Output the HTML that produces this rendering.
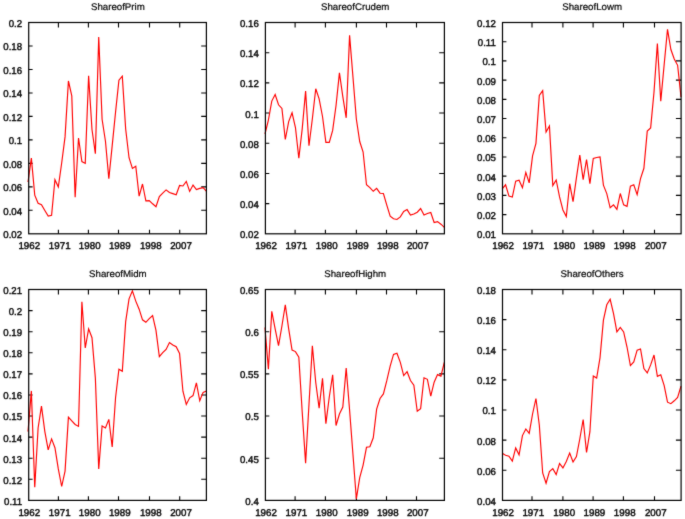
<!DOCTYPE html><html><head><meta charset="utf-8"><style>html,body{margin:0;padding:0;background:#fff}svg{display:block}text{font-family:"Liberation Sans",sans-serif;font-size:9.9px;fill:#000}</style></head><body>
<svg width="685" height="519" viewBox="0 0 685 519">
<defs><filter id="tb" x="0" y="0" width="685" height="519" filterUnits="userSpaceOnUse" color-interpolation-filters="sRGB"><feConvolveMatrix order="3" kernelMatrix="0.3 1 0.3 1 8 1 0.3 1 0.3" preserveAlpha="false"/></filter><filter id="lb" x="0" y="0" width="685" height="519" filterUnits="userSpaceOnUse" color-interpolation-filters="sRGB"><feConvolveMatrix order="3" kernelMatrix="0.25 1 0.25 1 9 1 0.25 1 0.25" preserveAlpha="false"/></filter></defs>
<rect width="685" height="519" fill="#fff"/>
<g filter="url(#lb)">
<path d="M58.40 233.80v-4.10M58.40 22.50v5.00M88.40 233.80v-4.10M88.40 22.50v5.00M118.50 233.80v-4.10M118.50 22.50v5.00M149.50 233.80v-4.10M149.50 22.50v5.00M179.70 233.80v-4.10M179.70 22.50v5.00M28.70 210.32h3.90M206.40 210.32h-5.20M28.70 186.84h3.90M206.40 186.84h-5.20M28.70 163.37h3.90M206.40 163.37h-5.20M28.70 139.89h3.90M206.40 139.89h-5.20M28.70 116.41h3.90M206.40 116.41h-5.20M28.70 92.93h3.90M206.40 92.93h-5.20M28.70 69.46h3.90M206.40 69.46h-5.20M28.70 45.98h3.90M206.40 45.98h-5.20" stroke="#000" stroke-width="1.1" fill="none"/>
<polyline points="28.00,182.00 31.37,158.10 34.74,195.10 38.10,203.20 41.47,204.70 44.84,210.50 48.21,216.10 51.58,215.30 54.94,179.80 58.31,187.10 61.68,163.00 65.05,136.90 68.42,81.00 71.78,95.90 75.15,197.30 78.52,138.00 81.89,161.60 85.25,163.40 88.62,75.80 91.99,129.50 95.36,153.70 98.73,37.00 102.09,119.30 105.46,141.20 108.83,178.70 112.20,145.60 115.57,112.00 118.93,80.20 122.30,76.20 125.67,129.00 129.04,157.70 132.41,168.40 135.77,166.20 139.14,196.20 142.51,184.00 145.88,200.90 149.25,200.60 152.61,203.80 155.98,206.70 159.35,196.50 162.72,193.10 166.08,189.90 169.45,192.50 172.82,193.60 176.19,194.70 179.56,185.50 182.92,186.00 186.29,181.40 189.66,191.40 193.03,185.10 196.40,189.60 199.76,188.40 203.13,187.70 206.50,191.40" fill="none" stroke="#ff0000" stroke-width="1.15" stroke-linejoin="miter" stroke-linecap="butt"/>
<g stroke="#000" stroke-width="1.2" fill="none"><rect x="28.70" y="22.50" width="177.70" height="211.30"/></g>
<path d="M295.10 233.80v-4.10M295.10 22.50v5.00M325.40 233.80v-4.10M325.40 22.50v5.00M356.40 233.80v-4.10M356.40 22.50v5.00M386.50 233.80v-4.10M386.50 22.50v5.00M416.50 233.80v-4.10M416.50 22.50v5.00M265.40 203.61h3.90M444.40 203.61h-5.20M265.40 173.43h3.90M444.40 173.43h-5.20M265.40 143.24h3.90M444.40 143.24h-5.20M265.40 113.06h3.90M444.40 113.06h-5.20M265.40 82.87h3.90M444.40 82.87h-5.20M265.40 52.69h3.90M444.40 52.69h-5.20" stroke="#000" stroke-width="1.1" fill="none"/>
<polyline points="265.00,134.00 268.38,120.10 271.77,101.10 275.15,94.50 278.53,104.80 281.92,108.40 285.30,139.50 288.68,121.60 292.06,112.80 295.45,127.50 298.83,158.20 302.21,128.90 305.60,91.10 308.98,145.80 312.36,118.70 315.75,88.70 319.13,98.90 322.51,116.50 325.89,142.40 329.28,142.40 332.66,130.40 336.04,105.50 339.43,72.90 342.81,96.70 346.19,117.80 349.58,35.30 352.96,77.00 356.34,119.00 359.72,141.50 363.11,152.00 366.49,184.70 369.87,187.60 373.26,191.30 376.64,188.40 380.02,193.20 383.41,193.50 386.79,205.20 390.17,216.20 393.55,218.80 396.94,219.50 400.32,216.90 403.70,211.50 407.09,209.60 410.47,215.00 413.85,214.00 417.24,212.20 420.62,208.60 424.00,215.00 427.38,213.50 430.77,212.50 434.15,222.50 437.53,221.60 440.92,224.20 444.30,227.40" fill="none" stroke="#ff0000" stroke-width="1.15" stroke-linejoin="miter" stroke-linecap="butt"/>
<g stroke="#000" stroke-width="1.2" fill="none"><rect x="265.40" y="22.50" width="179.00" height="211.30"/></g>
<path d="M532.00 233.80v-4.10M532.00 22.50v5.00M562.90 233.80v-4.10M562.90 22.50v5.00M593.10 233.80v-4.10M593.10 22.50v5.00M623.40 233.80v-4.10M623.40 22.50v5.00M654.50 233.80v-4.10M654.50 22.50v5.00M502.50 214.59h3.90M681.10 214.59h-5.20M502.50 195.38h3.90M681.10 195.38h-5.20M502.50 176.17h3.90M681.10 176.17h-5.20M502.50 156.96h3.90M681.10 156.96h-5.20M502.50 137.75h3.90M681.10 137.75h-5.20M502.50 118.55h3.90M681.10 118.55h-5.20M502.50 99.34h3.90M681.10 99.34h-5.20M502.50 80.13h3.90M681.10 80.13h-5.20M502.50 60.92h3.90M681.10 60.92h-5.20M502.50 41.71h3.90M681.10 41.71h-5.20" stroke="#000" stroke-width="1.1" fill="none"/>
<polyline points="502.20,188.80 505.57,184.80 508.95,196.10 512.32,197.10 515.69,181.20 519.07,180.30 522.44,187.80 525.82,172.40 529.19,182.90 532.56,155.90 535.94,143.30 539.31,95.40 542.68,90.60 546.06,132.00 549.43,126.00 552.80,185.60 556.18,180.00 559.55,196.90 562.92,210.00 566.30,216.60 569.67,183.70 573.05,201.70 576.42,177.80 579.79,155.10 583.17,179.60 586.54,159.50 589.91,183.70 593.29,158.50 596.66,157.50 600.03,157.00 603.41,185.10 606.78,193.60 610.15,207.80 613.53,204.90 616.90,209.30 620.28,193.50 623.65,204.90 627.02,206.40 630.40,186.20 633.77,184.80 637.14,194.70 640.52,178.60 643.89,168.30 647.26,131.10 650.64,127.90 654.01,92.00 657.38,43.60 660.76,101.30 664.13,65.00 667.51,29.40 670.88,49.50 674.25,59.00 677.63,65.30 681.00,97.00" fill="none" stroke="#ff0000" stroke-width="1.15" stroke-linejoin="miter" stroke-linecap="butt"/>
<g stroke="#000" stroke-width="1.2" fill="none"><rect x="502.50" y="22.50" width="178.60" height="211.30"/></g>
<path d="M58.40 500.40v-4.10M58.40 289.50v5.00M88.40 500.40v-4.10M88.40 289.50v5.00M118.50 500.40v-4.10M118.50 289.50v5.00M149.50 500.40v-4.10M149.50 289.50v5.00M179.70 500.40v-4.10M179.70 289.50v5.00M28.70 479.31h3.90M206.40 479.31h-5.20M28.70 458.22h3.90M206.40 458.22h-5.20M28.70 437.13h3.90M206.40 437.13h-5.20M28.70 416.04h3.90M206.40 416.04h-5.20M28.70 394.95h3.90M206.40 394.95h-5.20M28.70 373.86h3.90M206.40 373.86h-5.20M28.70 352.77h3.90M206.40 352.77h-5.20M28.70 331.68h3.90M206.40 331.68h-5.20M28.70 310.59h3.90M206.40 310.59h-5.20" stroke="#000" stroke-width="1.1" fill="none"/>
<polyline points="28.00,431.60 31.37,390.90 34.74,487.20 38.10,428.00 41.47,406.20 44.84,431.60 48.21,449.90 51.58,438.90 54.94,447.70 58.31,468.90 61.68,486.50 65.05,471.10 68.42,417.20 71.78,420.90 75.15,424.50 78.52,426.40 81.89,301.80 85.25,348.00 88.62,328.90 91.99,337.70 95.36,378.00 98.73,468.90 102.09,426.00 105.46,428.00 108.83,419.40 112.20,447.00 115.57,397.50 118.93,369.30 122.30,371.30 125.67,321.60 129.04,298.90 132.41,290.90 135.77,301.10 139.14,309.20 142.51,319.80 145.88,322.30 149.25,318.70 152.61,315.50 155.98,330.40 159.35,356.70 162.72,352.70 166.08,349.40 169.45,342.50 172.82,345.00 176.19,346.70 179.56,353.50 182.92,391.20 186.29,404.40 189.66,397.80 193.03,395.60 196.40,382.90 199.76,400.80 203.13,392.40 206.50,391.00" fill="none" stroke="#ff0000" stroke-width="1.15" stroke-linejoin="miter" stroke-linecap="butt"/>
<g stroke="#000" stroke-width="1.2" fill="none"><rect x="28.70" y="289.50" width="177.70" height="210.90"/></g>
<path d="M295.10 500.40v-4.10M295.10 289.50v5.00M325.40 500.40v-4.10M325.40 289.50v5.00M356.40 500.40v-4.10M356.40 289.50v5.00M386.50 500.40v-4.10M386.50 289.50v5.00M416.50 500.40v-4.10M416.50 289.50v5.00M265.40 458.22h3.90M444.40 458.22h-5.20M265.40 416.04h3.90M444.40 416.04h-5.20M265.40 373.86h3.90M444.40 373.86h-5.20M265.40 331.68h3.90M444.40 331.68h-5.20" stroke="#000" stroke-width="1.1" fill="none"/>
<polyline points="265.00,327.50 268.38,369.30 271.77,311.40 275.15,328.90 278.53,345.70 281.92,326.00 285.30,304.80 288.68,328.90 292.06,350.00 295.45,351.60 298.83,357.20 302.21,412.00 305.60,463.10 308.98,404.50 312.36,345.90 315.75,382.50 319.13,408.10 322.51,378.40 325.89,423.60 329.28,397.00 332.66,374.80 336.04,425.50 339.43,414.00 342.81,407.00 346.19,368.10 349.58,410.00 352.96,454.50 356.34,498.80 359.72,477.60 363.11,465.10 366.49,447.30 369.87,446.80 373.26,437.80 376.64,409.10 380.02,398.50 383.41,393.90 386.79,380.70 390.17,366.10 393.55,354.40 396.94,353.20 400.32,362.40 403.70,375.60 407.09,371.70 410.47,380.50 413.85,385.10 417.24,411.20 420.62,408.60 424.00,377.80 427.38,379.30 430.77,396.10 434.15,382.20 437.53,374.60 440.92,376.10 444.30,362.40" fill="none" stroke="#ff0000" stroke-width="1.15" stroke-linejoin="miter" stroke-linecap="butt"/>
<g stroke="#000" stroke-width="1.2" fill="none"><rect x="265.40" y="289.50" width="179.00" height="210.90"/></g>
<path d="M532.00 500.40v-4.10M532.00 289.50v5.00M562.90 500.40v-4.10M562.90 289.50v5.00M593.10 500.40v-4.10M593.10 289.50v5.00M623.40 500.40v-4.10M623.40 289.50v5.00M654.50 500.40v-4.10M654.50 289.50v5.00M502.50 470.27h3.90M681.10 470.27h-5.20M502.50 440.14h3.90M681.10 440.14h-5.20M502.50 410.01h3.90M681.10 410.01h-5.20M502.50 379.89h3.90M681.10 379.89h-5.20M502.50 349.76h3.90M681.10 349.76h-5.20M502.50 319.63h3.90M681.10 319.63h-5.20" stroke="#000" stroke-width="1.1" fill="none"/>
<polyline points="502.20,453.30 505.57,455.20 508.95,456.20 512.32,461.10 515.69,447.90 519.07,454.80 522.44,435.60 525.82,429.00 529.19,433.40 532.56,414.00 535.94,398.50 539.31,425.00 542.68,473.00 546.06,483.20 549.43,471.50 552.80,468.60 556.18,474.60 559.55,463.50 562.92,467.90 566.30,461.50 569.67,453.00 573.05,462.00 576.42,456.50 579.79,439.00 583.17,419.50 586.54,452.50 589.91,431.70 593.29,375.90 596.66,378.10 600.03,357.60 603.41,320.10 606.78,304.80 610.15,299.30 613.53,313.60 616.90,331.90 620.28,327.50 623.65,331.90 627.02,347.00 630.40,365.60 633.77,362.00 637.14,350.20 640.52,349.00 643.89,368.60 647.26,372.90 650.64,364.90 654.01,355.00 657.38,376.30 660.76,374.80 664.13,385.40 667.51,402.20 670.88,403.70 674.25,400.80 677.63,397.50 681.00,386.10" fill="none" stroke="#ff0000" stroke-width="1.15" stroke-linejoin="miter" stroke-linecap="butt"/>
<g stroke="#000" stroke-width="1.2" fill="none"><rect x="502.50" y="289.50" width="178.60" height="210.90"/></g>
</g>
<g text-rendering="geometricPrecision" filter="url(#tb)" stroke="#000" stroke-width="0.4"><text transform="translate(22.10 238.25) scale(0.978 1)" text-anchor="end">0.02</text><text transform="translate(22.10 214.77) scale(0.978 1)" text-anchor="end">0.04</text><text transform="translate(22.10 191.29) scale(0.978 1)" text-anchor="end">0.06</text><text transform="translate(22.10 167.82) scale(0.978 1)" text-anchor="end">0.08</text><text transform="translate(22.10 144.34) scale(0.978 1)" text-anchor="end">0.1</text><text transform="translate(22.10 120.86) scale(0.978 1)" text-anchor="end">0.12</text><text transform="translate(22.10 97.38) scale(0.978 1)" text-anchor="end">0.14</text><text transform="translate(22.10 73.91) scale(0.978 1)" text-anchor="end">0.16</text><text transform="translate(22.10 50.43) scale(0.978 1)" text-anchor="end">0.18</text><text transform="translate(22.10 26.95) scale(0.978 1)" text-anchor="end">0.2</text><text transform="translate(29.30 249.00) scale(0.988 1)" text-anchor="middle">1962</text><text transform="translate(59.70 249.00) scale(0.988 1)" text-anchor="middle">1971</text><text transform="translate(89.70 249.00) scale(0.988 1)" text-anchor="middle">1980</text><text transform="translate(119.80 249.00) scale(0.988 1)" text-anchor="middle">1989</text><text transform="translate(150.80 249.00) scale(0.988 1)" text-anchor="middle">1998</text><text transform="translate(181.00 249.00) scale(0.988 1)" text-anchor="middle">2007</text><text transform="translate(117.85 10.20) scale(1.010 1)" text-anchor="middle" style="font-size:9.6px" stroke-width="0.2">ShareofPrim</text><text transform="translate(258.80 238.25) scale(0.978 1)" text-anchor="end">0.02</text><text transform="translate(258.80 208.06) scale(0.978 1)" text-anchor="end">0.04</text><text transform="translate(258.80 177.88) scale(0.978 1)" text-anchor="end">0.06</text><text transform="translate(258.80 147.69) scale(0.978 1)" text-anchor="end">0.08</text><text transform="translate(258.80 117.51) scale(0.978 1)" text-anchor="end">0.1</text><text transform="translate(258.80 87.32) scale(0.978 1)" text-anchor="end">0.12</text><text transform="translate(258.80 57.14) scale(0.978 1)" text-anchor="end">0.14</text><text transform="translate(258.80 26.95) scale(0.978 1)" text-anchor="end">0.16</text><text transform="translate(266.00 249.00) scale(0.988 1)" text-anchor="middle">1962</text><text transform="translate(296.40 249.00) scale(0.988 1)" text-anchor="middle">1971</text><text transform="translate(326.70 249.00) scale(0.988 1)" text-anchor="middle">1980</text><text transform="translate(357.70 249.00) scale(0.988 1)" text-anchor="middle">1989</text><text transform="translate(387.80 249.00) scale(0.988 1)" text-anchor="middle">1998</text><text transform="translate(417.80 249.00) scale(0.988 1)" text-anchor="middle">2007</text><text transform="translate(355.20 10.20) scale(1.010 1)" text-anchor="middle" style="font-size:9.6px" stroke-width="0.2">ShareofCrudem</text><text transform="translate(495.90 238.25) scale(0.978 1)" text-anchor="end">0.01</text><text transform="translate(495.90 219.04) scale(0.978 1)" text-anchor="end">0.02</text><text transform="translate(495.90 199.83) scale(0.978 1)" text-anchor="end">0.03</text><text transform="translate(495.90 180.62) scale(0.978 1)" text-anchor="end">0.04</text><text transform="translate(495.90 161.41) scale(0.978 1)" text-anchor="end">0.05</text><text transform="translate(495.90 142.20) scale(0.978 1)" text-anchor="end">0.06</text><text transform="translate(495.90 123.00) scale(0.978 1)" text-anchor="end">0.07</text><text transform="translate(495.90 103.79) scale(0.978 1)" text-anchor="end">0.08</text><text transform="translate(495.90 84.58) scale(0.978 1)" text-anchor="end">0.09</text><text transform="translate(495.90 65.37) scale(0.978 1)" text-anchor="end">0.1</text><text transform="translate(495.90 46.16) scale(0.978 1)" text-anchor="end">0.11</text><text transform="translate(495.90 26.95) scale(0.978 1)" text-anchor="end">0.12</text><text transform="translate(503.10 249.00) scale(0.988 1)" text-anchor="middle">1962</text><text transform="translate(533.30 249.00) scale(0.988 1)" text-anchor="middle">1971</text><text transform="translate(564.20 249.00) scale(0.988 1)" text-anchor="middle">1980</text><text transform="translate(594.40 249.00) scale(0.988 1)" text-anchor="middle">1989</text><text transform="translate(624.70 249.00) scale(0.988 1)" text-anchor="middle">1998</text><text transform="translate(655.80 249.00) scale(0.988 1)" text-anchor="middle">2007</text><text transform="translate(592.10 10.20) scale(1.010 1)" text-anchor="middle" style="font-size:9.6px" stroke-width="0.2">ShareofLowm</text><text transform="translate(22.10 504.85) scale(0.978 1)" text-anchor="end">0.11</text><text transform="translate(22.10 483.76) scale(0.978 1)" text-anchor="end">0.12</text><text transform="translate(22.10 462.67) scale(0.978 1)" text-anchor="end">0.13</text><text transform="translate(22.10 441.58) scale(0.978 1)" text-anchor="end">0.14</text><text transform="translate(22.10 420.49) scale(0.978 1)" text-anchor="end">0.15</text><text transform="translate(22.10 399.40) scale(0.978 1)" text-anchor="end">0.16</text><text transform="translate(22.10 378.31) scale(0.978 1)" text-anchor="end">0.17</text><text transform="translate(22.10 357.22) scale(0.978 1)" text-anchor="end">0.18</text><text transform="translate(22.10 336.13) scale(0.978 1)" text-anchor="end">0.19</text><text transform="translate(22.10 315.04) scale(0.978 1)" text-anchor="end">0.2</text><text transform="translate(22.10 293.95) scale(0.978 1)" text-anchor="end">0.21</text><text transform="translate(29.30 515.60) scale(0.988 1)" text-anchor="middle">1962</text><text transform="translate(59.70 515.60) scale(0.988 1)" text-anchor="middle">1971</text><text transform="translate(89.70 515.60) scale(0.988 1)" text-anchor="middle">1980</text><text transform="translate(119.80 515.60) scale(0.988 1)" text-anchor="middle">1989</text><text transform="translate(150.80 515.60) scale(0.988 1)" text-anchor="middle">1998</text><text transform="translate(181.00 515.60) scale(0.988 1)" text-anchor="middle">2007</text><text transform="translate(117.85 277.20) scale(1.010 1)" text-anchor="middle" style="font-size:9.6px" stroke-width="0.2">ShareofMidm</text><text transform="translate(258.80 504.85) scale(0.978 1)" text-anchor="end">0.4</text><text transform="translate(258.80 462.67) scale(0.978 1)" text-anchor="end">0.45</text><text transform="translate(258.80 420.49) scale(0.978 1)" text-anchor="end">0.5</text><text transform="translate(258.80 378.31) scale(0.978 1)" text-anchor="end">0.55</text><text transform="translate(258.80 336.13) scale(0.978 1)" text-anchor="end">0.6</text><text transform="translate(258.80 293.95) scale(0.978 1)" text-anchor="end">0.65</text><text transform="translate(266.00 515.60) scale(0.988 1)" text-anchor="middle">1962</text><text transform="translate(296.40 515.60) scale(0.988 1)" text-anchor="middle">1971</text><text transform="translate(326.70 515.60) scale(0.988 1)" text-anchor="middle">1980</text><text transform="translate(357.70 515.60) scale(0.988 1)" text-anchor="middle">1989</text><text transform="translate(387.80 515.60) scale(0.988 1)" text-anchor="middle">1998</text><text transform="translate(417.80 515.60) scale(0.988 1)" text-anchor="middle">2007</text><text transform="translate(355.20 277.20) scale(1.010 1)" text-anchor="middle" style="font-size:9.6px" stroke-width="0.2">ShareofHighm</text><text transform="translate(495.90 504.85) scale(0.978 1)" text-anchor="end">0.04</text><text transform="translate(495.90 474.72) scale(0.978 1)" text-anchor="end">0.06</text><text transform="translate(495.90 444.59) scale(0.978 1)" text-anchor="end">0.08</text><text transform="translate(495.90 414.46) scale(0.978 1)" text-anchor="end">0.1</text><text transform="translate(495.90 384.34) scale(0.978 1)" text-anchor="end">0.12</text><text transform="translate(495.90 354.21) scale(0.978 1)" text-anchor="end">0.14</text><text transform="translate(495.90 324.08) scale(0.978 1)" text-anchor="end">0.16</text><text transform="translate(495.90 293.95) scale(0.978 1)" text-anchor="end">0.18</text><text transform="translate(503.10 515.60) scale(0.988 1)" text-anchor="middle">1962</text><text transform="translate(533.30 515.60) scale(0.988 1)" text-anchor="middle">1971</text><text transform="translate(564.20 515.60) scale(0.988 1)" text-anchor="middle">1980</text><text transform="translate(594.40 515.60) scale(0.988 1)" text-anchor="middle">1989</text><text transform="translate(624.70 515.60) scale(0.988 1)" text-anchor="middle">1998</text><text transform="translate(655.80 515.60) scale(0.988 1)" text-anchor="middle">2007</text><text transform="translate(592.10 277.20) scale(1.010 1)" text-anchor="middle" style="font-size:9.6px" stroke-width="0.2">ShareofOthers</text></g>
</svg></body></html>
